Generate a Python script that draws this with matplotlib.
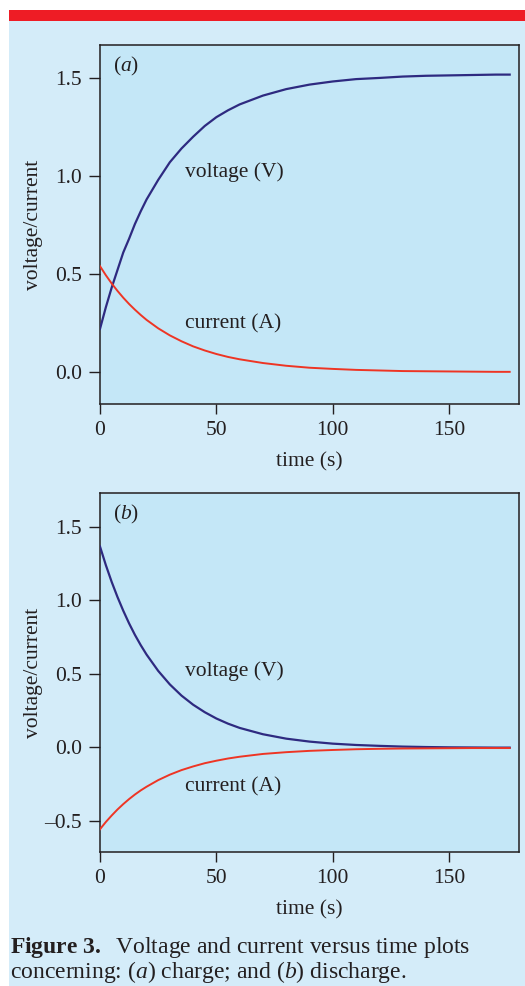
import matplotlib
matplotlib.use("Agg")
import matplotlib.pyplot as plt
from matplotlib.patches import Rectangle

plt.rcParams["font.family"] = "Liberation Serif"
plt.rcParams["mathtext.fontset"] = "custom"
plt.rcParams["mathtext.rm"] = "Liberation Serif"
plt.rcParams["mathtext.it"] = "Liberation Serif:italic"
plt.rcParams["mathtext.bf"] = "Liberation Serif:bold"

# ── data ────────────────────────────────────────────────
time_s = [0, 2.5, 5, 7.5, 10, 12.5, 15, 17.5, 20, 25, 30, 35, 40, 45, 50, 55,
          60, 70, 80, 90, 100, 110, 120, 130, 140, 150, 160, 170, 176]

charge_voltage = [0.22, 0.33, 0.43, 0.52, 0.61, 0.68, 0.755, 0.82, 0.88, 0.98,
                  1.07, 1.14, 1.20, 1.255, 1.30, 1.335, 1.365, 1.41, 1.443,
                  1.466, 1.482, 1.494, 1.50, 1.507, 1.511, 1.513, 1.515,
                  1.517, 1.517]
charge_current = [0.54, 0.494, 0.452, 0.414, 0.379, 0.347, 0.318, 0.291, 0.266,
                  0.223, 0.187, 0.157, 0.131, 0.110, 0.092, 0.077, 0.065,
                  0.046, 0.032, 0.022, 0.016, 0.011, 0.008, 0.005, 0.004,
                  0.003, 0.002, 0.001, 0.001]

discharge_voltage = [1.365, 1.239, 1.125, 1.022, 0.928, 0.842, 0.764, 0.694,
                     0.630, 0.519, 0.427, 0.351, 0.289, 0.238, 0.195, 0.160,
                     0.131, 0.088, 0.058, 0.038, 0.024, 0.015, 0.009, 0.004,
                     0.001, -0.001, -0.002, -0.003, -0.003]
discharge_current = [-0.558, -0.509, -0.465, -0.424, -0.387, -0.353, -0.322,
                     -0.294, -0.269, -0.224, -0.187, -0.156, -0.131, -0.109,
                     -0.092, -0.077, -0.065, -0.046, -0.034, -0.025, -0.019,
                     -0.014, -0.011, -0.009, -0.008, -0.007, -0.006, -0.006,
                     -0.006]

x_ticks = [0, 50, 100, 150]
y_ticks_a = [0.0, 0.5, 1.0, 1.5]
y_ticks_b = [-0.5, 0.0, 0.5, 1.0, 1.5]

# ── style ───────────────────────────────────────────────
PANEL_BG = "#d4ecf9"
AXES_BG = "#c4e7f7"
RED_BAR = "#ee1c25"
V_COLOR = "#2e2a80"
I_COLOR = "#ee3524"
INK = "#231f20"
FS = 15.5

W, H = 525, 986
fig = plt.figure(figsize=(W / 100, H / 100), dpi=100)
fig.patch.set_facecolor("white")

# background panel + red header bar
fig.add_artist(Rectangle((8.5 / W, 0), 1, 1 - 20.5 / H, transform=fig.transFigure,
                         facecolor=PANEL_BG, edgecolor="none", zorder=-10))
fig.add_artist(Rectangle((8.5 / W, 1 - 20.5 / H), 1, 10.5 / H, transform=fig.transFigure,
                         facecolor=RED_BAR, edgecolor="none", zorder=-10))


def make_axes(top_px, ylim, yticks, volt, curr, tag, vlab_y, ilab_y):
    ax = fig.add_axes([100 / W, 1 - (top_px + 359) / H, 419 / W, 359 / H])
    ax.set_facecolor(AXES_BG)
    ax.plot(time_s, volt, color=V_COLOR, lw=1.6, zorder=3)
    ax.plot(time_s, curr, color=I_COLOR, lw=1.4, zorder=3)
    ax.set_xlim(0, 180)
    ax.set_ylim(*ylim)
    ax.set_xticks(x_ticks)
    ax.set_yticks(yticks)
    ax.set_yticklabels([f"{v:.1f}".replace("-", "\u2013") for v in yticks])
    ax.tick_params(direction="out", length=7, width=1.0, color=INK,
                   labelsize=FS, labelcolor=INK, pad=5)
    ax.tick_params(axis="y", length=8)
    for sp in ax.spines.values():
        sp.set_color(INK)
        sp.set_linewidth(1.1)
    ax.set_xlabel("time (s)", fontsize=FS, color=INK, labelpad=9)
    ax.set_ylabel("voltage/current", fontsize=FS, color=INK)
    ax.yaxis.set_label_coords(-0.137, 0.5)
    ax.text(0.03, 0.94, tag, transform=ax.transAxes, fontsize=FS, color=INK,
            ha="left", va="center")
    ax.text(36.5, vlab_y, "voltage (V)", fontsize=FS, color=INK,
            ha="left", va="center")
    ax.text(36.5, ilab_y, "current (A)", fontsize=FS, color=INK,
            ha="left", va="center")
    return ax


make_axes(45, (-0.163, 1.668), y_ticks_a, charge_voltage, charge_current,
          "($a$)", 1.022, 0.248)
make_axes(493, (-0.713, 1.729), y_ticks_b, discharge_voltage, discharge_current,
          "($b$)", 0.515, -0.267)

# caption (one text block, tight leading as in the journal layout)
caption = (r"$\mathbf{Figure\ 3.}$  Voltage and current versus time plots" "\n"
           r"concerning: ($a$) charge; and ($b$) discharge.")
fig.text(10 / W, 1 - 935 / H, caption, fontsize=17, color=INK,
         ha="left", va="top", linespacing=0.95)

fig.savefig("out.png", dpi=100, facecolor=fig.get_facecolor())
